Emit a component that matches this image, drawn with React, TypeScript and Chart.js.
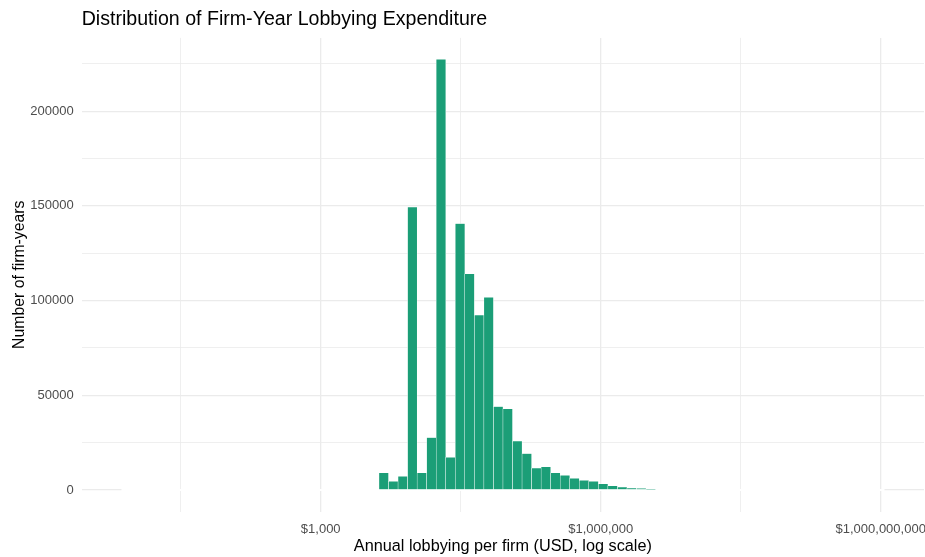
import React, { useEffect, useRef } from "react";
import { Chart, registerables } from "chart.js";

Chart.register(...registerables);

// Histogram bins (log10 of USD): start edge and width of each bin
const BIN_START_LOG10 = 0.865;
const BIN_WIDTH_LOG10 = 0.1022;

// Counts per bin (80 bins)
const BIN_COUNTS = [
  0, 0, 0, 0, 0, 0, 0, 0, 0, 0,
  0, 0, 0, 0, 0, 0, 0, 0, 0, 0,
  0, 0, 0, 0, 0, 0, 0,
  9000, 4500, 7200, 149300, 9000, 27600, 227300, 17200, 140700, 114100,
  92400, 101700, 44000, 42900, 25800, 19200, 11500, 12200, 9000, 7700,
  6100, 5100, 4500, 3300, 2200, 1500, 950, 900, 400,
  0, 0, 0, 0, 0, 0, 0, 0, 0, 0,
  0, 0, 0, 0, 0, 0, 0, 0, 0, 0,
  0, 0, 0, 0,
];

const X_TICK_LOG10 = [1.5, 3, 4.5, 6, 7.5, 9];
const X_TICK_LABELS = ["", "$1,000", "", "$1,000,000", "", "$1,000,000,000"];
const X_MAJOR = [false, true, false, true, false, true];

const Y_TICKS = [0, 25000, 50000, 75000, 100000, 125000, 150000, 175000, 200000, 225000];
const Y_TICK_LABELS = ["0", "", "50000", "", "100000", "", "150000", "", "200000", ""];
const Y_MAJOR = [true, false, true, false, true, false, true, false, true, false];

const TITLE = "Distribution of Firm-Year Lobbying Expenditure";
const X_TITLE = "Annual lobbying per firm (USD, log scale)";
const Y_TITLE = "Number of firm-years";

const FONT = "'Liberation Sans', Arial, sans-serif";
const GRID = "#ebebeb";
const BAR = "#1b9e77";

const baselinePlugin = {
  id: "zeroBinOutline",
  beforeDatasetsDraw(chart: any) {
    const xs = chart.scales.x;
    const ys = chart.scales.y;
    const x0 = xs.getPixelForValue(BIN_START_LOG10);
    const x1 = xs.getPixelForValue(BIN_START_LOG10 + BIN_COUNTS.length * BIN_WIDTH_LOG10);
    const y = ys.getPixelForValue(0);
    const ctx = chart.ctx;
    ctx.save();
    ctx.strokeStyle = "#ffffff";
    ctx.lineWidth = 2;
    ctx.beginPath();
    ctx.moveTo(x0, y);
    ctx.lineTo(x1, y);
    ctx.stroke();
    ctx.restore();
  },
};

export default function App() {
  const ref = useRef<HTMLCanvasElement | null>(null);

  useEffect(() => {
    document.body.style.margin = "0";
    const data = BIN_COUNTS.map((c, i) => ({
      x: BIN_START_LOG10 + (i + 0.5) * BIN_WIDTH_LOG10,
      y: c,
    }));
    const chart = new Chart(ref.current as HTMLCanvasElement, {
      type: "bar",
      data: {
        datasets: [
          {
            data,
            backgroundColor: BAR,
            borderColor: "#ffffff",
            borderWidth: 0.5,
            borderSkipped: false,
            barPercentage: 1,
            categoryPercentage: 1,
            grouped: false,
          } as any,
        ],
      },
      plugins: [baselinePlugin],
      options: {
        animation: false,
        responsive: true,
        maintainAspectRatio: false,
        layout: { padding: { left: 0, right: 1, top: 0, bottom: 0 } },
        plugins: {
          legend: { display: false },
          tooltip: { enabled: false },
          title: {
            display: true,
            text: TITLE,
            align: "start",
            fullSize: false,
            color: "#000000",
            font: { family: FONT, size: 19.6, weight: "normal" },
            padding: { top: 8.3, bottom: 6.1 },
          } as any,
        },
        scales: {
          x: {
            type: "linear",
            min: 0.439,
            max: 9.464,
            offset: false,
            border: { display: false },
            grid: {
              offset: false,
              color: GRID,
              lineWidth: (ctx: any) => (X_MAJOR[ctx.index] ? 1.3 : 0.8),
              drawTicks: false,
            },
            afterBuildTicks: (scale: any) => {
              scale.ticks = X_TICK_LOG10.map((v) => ({ value: v }));
            },
            afterFit: (scale: any) => {
              scale.height = 45.5;
              scale.paddingLeft = 0;
              scale.paddingRight = 0;
            },
            ticks: {
              autoSkip: false,
              maxRotation: 0,
              minRotation: 0,
              color: "#4d4d4d",
              padding: 10,
              font: { family: FONT, size: 13 },
              callback: (_v: any, i: number) => X_TICK_LABELS[i],
            },
            title: {
              display: true,
              text: X_TITLE,
              color: "#000000",
              font: { family: FONT, size: 16.25 },
              padding: { top: 0, bottom: 1 },
            },
          },
          y: {
            type: "linear",
            min: -11365,
            max: 238665,
            border: { display: false },
            grid: {
              color: GRID,
              lineWidth: (ctx: any) => (Y_MAJOR[ctx.index] ? 1.3 : 0.8),
              drawTicks: false,
            },
            afterBuildTicks: (scale: any) => {
              scale.ticks = Y_TICKS.map((v) => ({ value: v }));
            },
            afterFit: (scale: any) => {
              scale.width = 81.7;
              scale.paddingTop = 0;
              scale.paddingBottom = 0;
            },
            ticks: {
              autoSkip: false,
              color: "#4d4d4d",
              padding: 8,
              font: { family: FONT, size: 13 },
              callback: (_v: any, i: number) => Y_TICK_LABELS[i],
            },
            title: {
              display: true,
              text: Y_TITLE,
              color: "#000000",
              font: { family: FONT, size: 15.8 },
              padding: { top: 9.7, bottom: 0 },
            },
          },
        },
      },
    });
    return () => chart.destroy();
  }, []);

  return (
    <div style={{ position: "relative", width: "925px", height: "557px" }}>
      <canvas ref={ref} />
    </div>
  );
}
